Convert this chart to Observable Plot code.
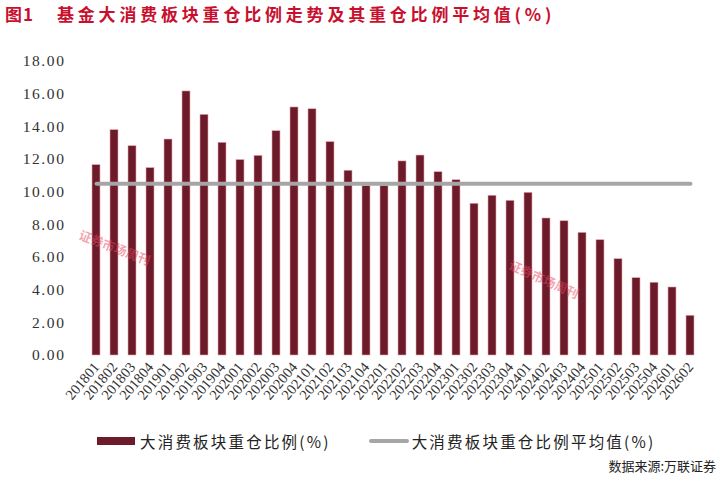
<!DOCTYPE html>
<html>
<head>
<meta charset="utf-8">
<script src="https://cdn.jsdelivr.net/npm/d3@7"></script>
<script src="https://cdn.jsdelivr.net/npm/@observablehq/plot@0.6"></script>
<style>
  html, body { margin: 0; padding: 0; background: #fff; }
  #wrap { position: relative; width: 721px; height: 478px; overflow: hidden; background: #fff; }
  #title { position: absolute; left: 5px; top: 4px; font-family: "Noto Sans CJK SC", sans-serif; font-weight: 700; font-size: 17px; line-height: 20px; color: #c8102e; letter-spacing: 3.8px; white-space: nowrap; }
  #chart { position: absolute; left: 0; top: 38px; }
  #chart g[aria-label="y-axis tick label"] text { letter-spacing: 1.6px; }
  .wm { position: absolute; font-family: "Noto Sans CJK SC", sans-serif; font-weight: 700; font-size: 12.5px; color: rgba(232, 70, 95, 0.5); white-space: nowrap; transform-origin: left center; }
  #legend { position: absolute; left: 97px; top: 431px; font-family: "Noto Sans CJK SC", sans-serif; font-size: 15.5px; line-height: 20px; color: #222; white-space: nowrap; display: flex; align-items: center; letter-spacing: 2.2px; }
  .sw { display: inline-block; }
  #source { position: absolute; right: 5px; top: 457px; font-family: "Noto Sans CJK SC", sans-serif; font-size: 13px; line-height: 18px; color: #222; white-space: nowrap; }
</style>
</head>
<body>
<div id="wrap">
  <div id="title"><span style="letter-spacing:1px">图1</span>&nbsp;&nbsp;&nbsp;基金大消费板块重仓比例走势及其重仓比例平均值(%)</div>
  <div id="chart"></div>
  <div class="wm" style="left:80px; top:224px; transform: rotate(21deg);">证券市场周刊</div>
  <div class="wm" style="left:510px; top:254px; transform: rotate(24deg);">证券市场周刊</div>
  <div id="legend">
    <span class="sw" style="width:38px; height:8px; background:#6b1b29;"></span>
    <span style="margin-left:5px;">大消费板块重仓比例(%)</span>
    <span class="sw" style="width:40px; height:4px; background:#a6a6a6; margin-left:38px; border-radius:2px;"></span>
    <span style="margin-left:3px;">大消费板块重仓比例平均值(%)</span>
  </div>
  <div id="source">数据来源:万联证券</div>
</div>
<script>
const quarters = [
  "201801","201802","201803","201804",
  "201901","201902","201903","201904",
  "202001","202002","202003","202004",
  "202101","202102","202103","202104",
  "202201","202202","202203","202204",
  "202301","202302","202303","202304",
  "202401","202402","202403","202404",
  "202501","202502","202503","202504",
  "202601","202602"
];
const ratio = [
  11.64, 13.78, 12.80, 11.46,
  13.21, 16.15, 14.72, 13.01,
  11.95, 12.21, 13.72, 15.17,
  15.06, 13.05, 11.30, 10.36,
  10.36, 11.87, 12.23, 11.21,
  10.72, 9.28, 9.77, 9.46,
  9.95, 8.38, 8.21, 7.50,
  7.05, 5.89, 4.73, 4.45,
  4.16, 2.43
];
const averageRatio = 10.50;
const yTicks = [0, 2, 4, 6, 8, 10, 12, 14, 16, 18];

const rows = quarters.map((q, i) => ({q, v: ratio[i], avg: averageRatio}));

const chart = Plot.plot({
  width: 721,
  height: 385,
  marginTop: 22.7,
  marginBottom: 68,
  marginLeft: 79,
  marginRight: 15,
  style: {background: "transparent", overflow: "visible"},
  x: {domain: quarters, padding: 0.565, label: null},
  y: {domain: [0, 18], label: null},
  marks: [
    Plot.barY(rows, {x: "q", y: "v", fill: "#6b1b29", stroke: "#e6a3ac", strokeWidth: 0.6}),
    Plot.lineY(rows, {x: "q", y: "avg", stroke: "#a6a6a6", strokeWidth: 4, strokeLinecap: "round"}),
    Plot.axisY({ticks: yTicks, tickSize: 0, tickPadding: 14, tickFormat: d => d.toFixed(2),
      fontFamily: "Liberation Serif", fontSize: 15.5, fill: "#333", label: null}),
    Plot.axisX({tickSize: 0, tickPadding: 9, tickRotate: -50,
      fontFamily: "Liberation Serif", fontSize: 14.5, fill: "#333", label: null})
  ]
});
document.getElementById("chart").appendChild(chart);
</script>
</body>
</html>
